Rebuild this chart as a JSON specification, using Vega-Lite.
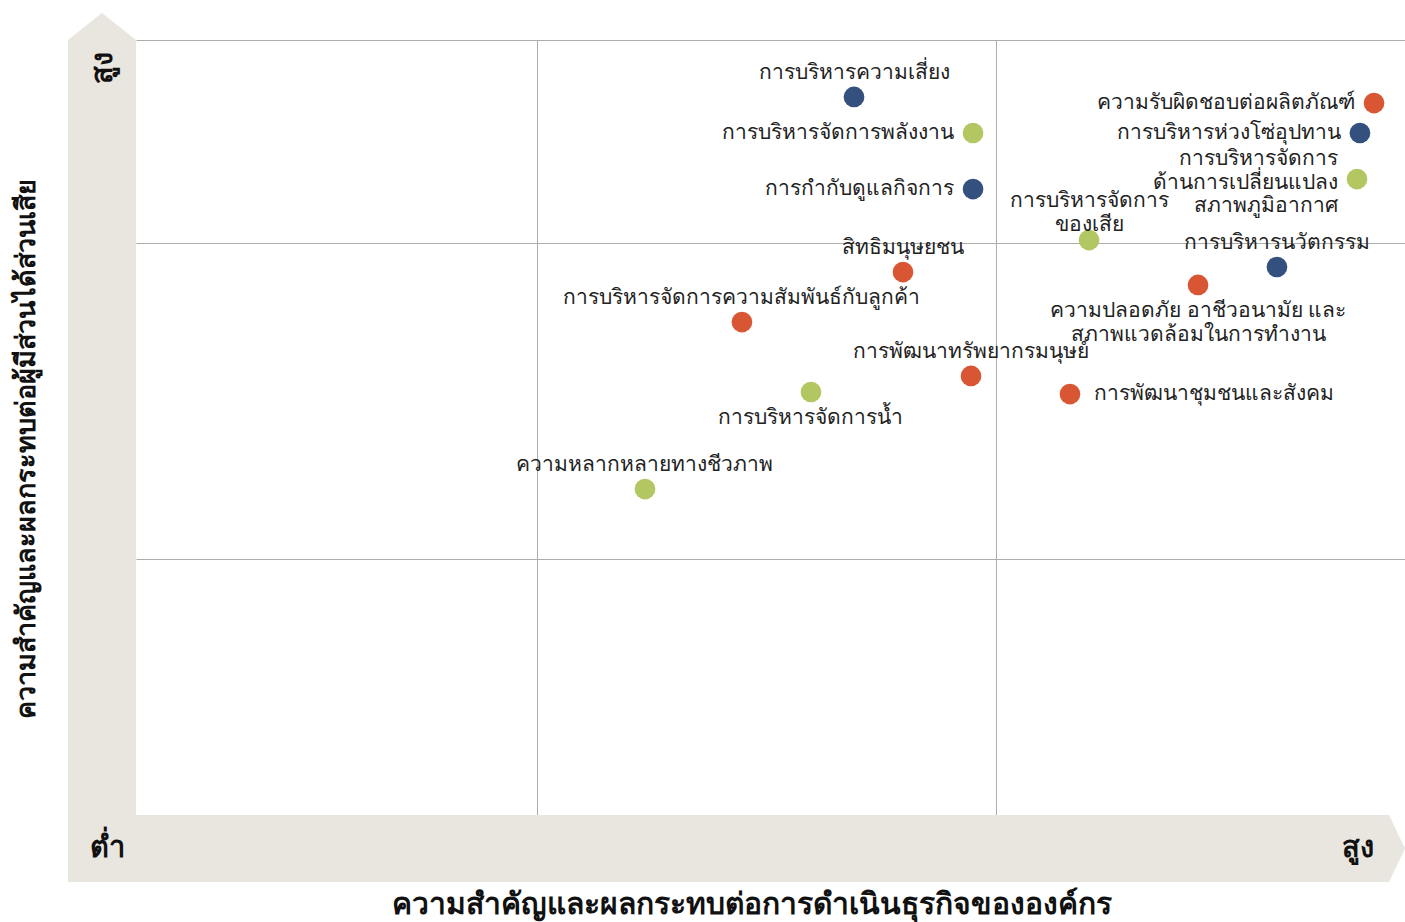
{
  "$schema": "https://vega.github.io/schema/vega-lite/v6.json",
  "width": 1269,
  "height": 775,
  "autosize": {"type": "none"},
  "padding": {"left": 136, "top": 40, "right": 0, "bottom": 107},
  "background": "white",
  "config": {"view": {"stroke": null}, "font": "Noto Sans"},
  "datasets": {
    "topics": [
      {"topic": "การบริหารความเสี่ยง", "group": "governance", "x": 5.658, "y": 9.265, "pos": "above"},
      {"topic": "การบริหารจัดการพลังงาน", "group": "environment", "x": 6.596, "y": 8.800, "pos": "left"},
      {"topic": "การกำกับดูแลกิจการ", "group": "governance", "x": 6.596, "y": 8.077, "pos": "left"},
      {"topic": "สิทธิมนุษยชน", "group": "social", "x": 6.044, "y": 7.006, "pos": "above"},
      {"topic": "การบริหารจัดการความสัมพันธ์กับลูกค้า", "group": "social", "x": 4.775, "y": 6.361, "pos": "above"},
      {"topic": "การพัฒนาทรัพยากรมนุษย์", "group": "social", "x": 6.580, "y": 5.665, "pos": "above"},
      {"topic": "การบริหารจัดการน้ำ", "group": "environment", "x": 5.319, "y": 5.458, "pos": "below"},
      {"topic": "ความหลากหลายทางชีวภาพ", "group": "environment", "x": 4.011, "y": 4.206, "pos": "above"},
      {"topic": "การบริหารจัดการ\nของเสีย", "group": "environment", "x": 7.510, "y": 7.419, "pos": "above"},
      {"topic": "การพัฒนาชุมชนและสังคม", "group": "social", "x": 7.360, "y": 5.432, "pos": "right"},
      {"topic": "ความปลอดภัย อาชีวอนามัย และ\nสภาพแวดล้อมในการทำงาน", "group": "social", "x": 8.369, "y": 6.839, "pos": "below"},
      {"topic": "การบริหารนวัตกรรม", "group": "governance", "x": 8.991, "y": 7.071, "pos": "above"},
      {"topic": "ความรับผิดชอบต่อผลิตภัณฑ์", "group": "social", "x": 9.756, "y": 9.187, "pos": "left"},
      {"topic": "การบริหารห่วงโซ่อุปทาน", "group": "governance", "x": 9.645, "y": 8.800, "pos": "left"},
      {"topic": "การบริหารจัดการ\nด้านการเปลี่ยนแปลง\nสภาพภูมิอากาศ", "group": "environment", "x": 9.622, "y": 8.206, "pos": "left"}
    ],
    "bands": [
      {"band": "vertical", "x0": -0.536, "x1": 0, "y0": -0.865, "y1": 10},
      {"band": "horizontal", "x0": -0.536, "x1": 9.874, "y0": -0.865, "y1": 0}
    ],
    "tips": [
      {"tip": "top", "x": -0.536, "y": 10, "y2": 10},
      {"tip": "top", "x": -0.268, "y": 10.348, "y2": 10},
      {"tip": "top", "x": 0, "y": 10, "y2": 10},
      {"tip": "right", "x": 9.874, "y": 0, "y2": -0.865},
      {"tip": "right", "x": 10, "y": -0.432, "y2": -0.432}
    ],
    "ends": [
      {"word": "ต่ำ", "x": -0.221, "y": -0.426, "angle": 0},
      {"word": "สูง", "x": 9.630, "y": -0.426, "angle": 0},
      {"word": "สูง", "x": -0.26, "y": 9.639, "angle": 270}
    ]
  },
  "layer": [
    {
      "data": {"name": "bands"},
      "mark": {"type": "rect", "color": "#E9E6DF"},
      "encoding": {
        "x": {"field": "x0", "type": "quantitative", "scale": {"domain": [0, 10], "nice": false, "zero": false},
          "axis": {"grid": true, "values": [3.16, 6.777], "labels": false, "ticks": false, "domain": false,
            "gridColor": "#ADADAD", "gridWidth": 1,
            "title": "ความสำคัญและผลกระทบต่อการดำเนินธุรกิจขององค์กร",
            "titleFont": "Noto Sans", "titleFontSize": 30, "titleFontWeight": "bold", "titleColor": "#111111",
            "titleX": 615, "titleY": 98, "titleAlign": "center", "titleBaseline": "alphabetic", "titleAnchor": null}},
        "x2": {"field": "x1"},
        "y": {"field": "y0", "type": "quantitative", "scale": {"domain": [0, 10], "nice": false, "zero": false},
          "axis": {"grid": true, "values": [3.303, 7.381, 10], "labels": false, "ticks": false, "domain": false,
            "gridColor": "#ADADAD", "gridWidth": 1,
            "title": "ความสำคัญและผลกระทบต่อผู้มีส่วนได้ส่วนเสีย",
            "titleFont": "Noto Sans", "titleFontSize": 27, "titleFontWeight": "bold", "titleColor": "#111111",
            "titleX": -110, "titleY": 408, "titleAngle": 270, "titleAlign": "center", "titleBaseline": "middle"}},
        "y2": {"field": "y1"}
      }
    },
    {
      "data": {"name": "tips"},
      "mark": {"type": "area", "color": "#E9E6DF", "orient": "vertical"},
      "encoding": {
        "x": {"field": "x", "type": "quantitative"},
        "y": {"field": "y", "type": "quantitative"},
        "y2": {"field": "y2"},
        "detail": {"field": "tip"}
      }
    },
    {
      "data": {"name": "ends"},
      "mark": {"type": "text", "fontSize": 29, "fontWeight": "bold", "color": "#111111", "align": "center", "baseline": "middle"},
      "encoding": {
        "x": {"field": "x", "type": "quantitative"},
        "y": {"field": "y", "type": "quantitative"},
        "text": {"field": "word"},
        "angle": {"field": "angle", "type": "quantitative", "scale": null}
      }
    },
    {
      "data": {"name": "topics"},
      "mark": {"type": "circle", "size": 430, "opacity": 1},
      "encoding": {
        "x": {"field": "x", "type": "quantitative"},
        "y": {"field": "y", "type": "quantitative"},
        "color": {"field": "group", "type": "nominal",
          "scale": {"domain": ["social", "governance", "environment"], "range": ["#D95634", "#34507F", "#B2C662"]},
          "legend": null}
      }
    },
    {
      "data": {"name": "topics"},
      "transform": [{"filter": "datum.pos === 'above' && indexof(datum.topic, '\\n') < 0"}],
      "mark": {"type": "text", "fontSize": 21, "color": "#222222", "align": "center", "baseline": "bottom", "dy": -14, "lineBreak": "\n", "lineHeight": 24},
      "encoding": {
        "x": {"field": "x", "type": "quantitative"},
        "y": {"field": "y", "type": "quantitative"},
        "text": {"field": "topic"}
      }
    },
    {
      "data": {"name": "topics"},
      "transform": [{"filter": "datum.pos === 'above' && indexof(datum.topic, '\\n') >= 0"}],
      "mark": {"type": "text", "fontSize": 21, "color": "#222222", "align": "center", "baseline": "bottom", "dy": -29, "lineBreak": "\n", "lineHeight": 24},
      "encoding": {
        "x": {"field": "x", "type": "quantitative"},
        "y": {"field": "y", "type": "quantitative"},
        "text": {"field": "topic"}
      }
    },
    {
      "data": {"name": "topics"},
      "transform": [{"filter": "datum.pos === 'below'"}],
      "mark": {"type": "text", "fontSize": 21, "color": "#222222", "align": "center", "baseline": "top", "dy": 15, "lineBreak": "\n", "lineHeight": 24},
      "encoding": {
        "x": {"field": "x", "type": "quantitative"},
        "y": {"field": "y", "type": "quantitative"},
        "text": {"field": "topic"}
      }
    },
    {
      "data": {"name": "topics"},
      "transform": [{"filter": "datum.pos === 'left' && indexof(datum.topic, '\\n') < 0"}],
      "mark": {"type": "text", "fontSize": 21, "color": "#222222", "align": "right", "baseline": "middle", "dx": -19, "lineBreak": "\n", "lineHeight": 24},
      "encoding": {
        "x": {"field": "x", "type": "quantitative"},
        "y": {"field": "y", "type": "quantitative"},
        "text": {"field": "topic"}
      }
    },
    {
      "data": {"name": "topics"},
      "transform": [{"filter": "datum.pos === 'left' && indexof(datum.topic, '\\n') >= 0"}],
      "mark": {"type": "text", "fontSize": 21, "color": "#222222", "align": "right", "baseline": "middle", "dx": -19, "dy": -20, "lineBreak": "\n", "lineHeight": 23.5},
      "encoding": {
        "x": {"field": "x", "type": "quantitative"},
        "y": {"field": "y", "type": "quantitative"},
        "text": {"field": "topic"}
      }
    },
    {
      "data": {"name": "topics"},
      "transform": [{"filter": "datum.pos === 'right'"}],
      "mark": {"type": "text", "fontSize": 21, "color": "#222222", "align": "left", "baseline": "middle", "dx": 24, "lineBreak": "\n", "lineHeight": 24},
      "encoding": {
        "x": {"field": "x", "type": "quantitative"},
        "y": {"field": "y", "type": "quantitative"},
        "text": {"field": "topic"}
      }
    }
  ]
}
